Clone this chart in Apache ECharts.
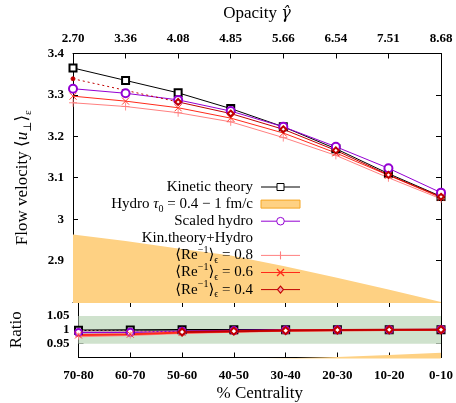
<!DOCTYPE html>
<html><head><meta charset="utf-8">
<script src="https://cdn.jsdelivr.net/npm/echarts@6/dist/echarts.min.js"></script>
<style>html,body{margin:0;padding:0;background:#fff}#c{width:456px;height:403px}</style>
</head><body><div id="c"></div>
<script>
const centrality = ['70-80','60-70','50-60','40-50','30-40','20-30','10-20','0-10'];
const opacity = ['2.70','3.36','4.08','4.85','5.66','6.54','7.51','8.68'];
// main panel values
const kinetic = [3.365, 3.335, 3.305, 3.267, 3.223, 3.170, 3.110, 3.055];
const scaledHydro = [3.315, 3.304, 3.288, 3.261, 3.223, 3.175, 3.123, 3.064];
const re08 = [3.281, 3.272, 3.257, 3.235, 3.197, 3.154, 3.100, 3.049];
const re06 = [3.297, 3.285, 3.269, 3.244, 3.208, 3.160, 3.106, 3.052];
const re04 = [3.339, 3.311, 3.283, 3.255, 3.217, 3.166, 3.107, 3.054];
const hydroLow = [2.70, 2.68, 2.66, 2.64, 2.61, 2.58, 2.55, 2.52];
const hydroHigh = [2.963, 2.947, 2.929, 2.912, 2.887, 2.859, 2.830, 2.800];
// ratio panel values
const rKinetic = [0.998, 0.999, 1.000, 1.000, 1.000, 1.000, 1.000, 1.000];
const rScaled = [0.990, 0.991, 0.995, 0.997, 0.999, 1.000, 1.000, 1.001];
const rRe08 = [0.977, 0.981, 0.988, 0.993, 0.996, 0.998, 0.999, 0.999];
const rRe06 = [0.981, 0.984, 0.990, 0.994, 0.997, 0.998, 0.999, 1.000];
const rRe04 = [0.997, 0.995, 0.992, 0.995, 0.997, 0.999, 1.000, 1.000];
const rHydroLow = [0.80, 0.80, 0.80, 0.80, 0.83, 0.84, 0.85, 0.86];
const rHydroHigh = [0.880, 0.884, 0.886, 0.891, 0.897, 0.902, 0.909, 0.917];
const mainTicks = {min: 2.8, max: 3.4, interval: 0.1};
const ratioTicks = {min: 0.9, max: 1.1, interval: 0.05};

const C = {kin:'#000000', sc:'#9400d3', r8:'#ff8080', r6:'#ff2a1a', r4:'#c00000', orange:'#fed183', orangeB:'#f5a623', green:'#cfe2cd'};
const FF = 'Liberation Serif, DejaVu Serif, serif';
const PLUS = 'path://M5,0V10M0,5H10';
const CROSS = 'path://M0,0L10,10M10,0L0,10';

const tickLab = {fontFamily: FF, fontWeight: 'bold', fontSize: 13, color: '#000'};
function xAx(grid, pos, data, showLab, margin) {
  return {type:'category', gridIndex: grid, position: pos, data: data, boundaryGap: false,
    axisLine:{show:true, lineStyle:{color:'#000', width:1}},
    axisTick:{show:true, inside:true, length:5, lineStyle:{color:'#000'}},
    axisLabel:{show:showLab, interval:0, margin: margin||8, ...tickLab},
    splitLine:{show:false}};
}
function yAx(grid, pos, t, showLab) {
  return {type:'value', gridIndex: grid, position: pos, min:t.min, max:t.max, interval:t.interval,
    axisLine:{show:true, lineStyle:{color:'#000', width:1}},
    axisTick:{show:true, inside:true, length:5, lineStyle:{color:'#000'}},
    axisLabel:{show:showLab, margin:9, showMinLabel:false, ...tickLab},
    splitLine:{show:false}};
}
const nameStyle = {fontFamily: FF, fontSize: 17, color:'#000',
  rich:{i:{fontFamily:FF, fontSize:17, fontStyle:'italic', lineHeight:22},
        g:{fontFamily:'DejaVu Serif', fontSize:16, fontStyle:'italic', lineHeight:22},
        sub:{fontFamily:FF, fontSize:11, verticalAlign:'bottom', lineHeight:22},
        n:{fontFamily:FF, fontSize:17, lineHeight:22}}};

const xAxes = [
  xAx(0,'bottom',centrality,false),
  Object.assign(xAx(0,'top',opacity,true,8), {name:'{n|Opacity }{g|γ̂}', nameLocation:'middle', nameGap:29, nameTextStyle:nameStyle}),
  Object.assign(xAx(1,'bottom',centrality,true,12), {name:'{n|% Centrality}', nameLocation:'middle', nameGap:25, nameTextStyle:nameStyle}),
  xAx(1,'top',centrality,false)
];
const yMain = yAx(0,'left',mainTicks,true);
Object.assign(yMain,{name:'{n|Flow velocity ⟨}{i|u}{sub|⊥}{n|⟩}{sub|ε}', nameLocation:'middle', nameGap:39, nameTextStyle:nameStyle});
const yRatio = yAx(1,'left',ratioTicks,true);
yRatio.axisLabel.showMaxLabel = false;
Object.assign(yRatio,{name:'{n|Ratio}', nameLocation:'middle', nameGap:51, nameTextStyle:nameStyle});
const yAxes = [yMain, yAx(0,'right',mainTicks,false), yRatio, yAx(1,'right',ratioTicks,false)];

function line(name, data, color, symbol, size, xi, yi, width, extra) {
  return Object.assign({type:'line', name, data, xAxisIndex:xi, yAxisIndex:yi,
    symbol, symbolSize:size, showSymbol:true, animation:false, silent:true,
    lineStyle:{color, width}, itemStyle:{color, borderColor:color, borderWidth:0.9}}, extra||{});
}
function band(prefix, low, high, xi, yi) {
  return [
    {type:'line', name:prefix+'low', data:low, stack:prefix, xAxisIndex:xi, yAxisIndex:yi, symbol:'none', lineStyle:{opacity:0}, animation:false, silent:true},
    {type:'line', name:prefix+'band', data:high.map((v,i)=>v-low[i]), stack:prefix, xAxisIndex:xi, yAxisIndex:yi, symbol:'none', lineStyle:{opacity:0}, areaStyle:{color:C.orange, opacity:1}, animation:false, silent:true}
  ];
}
const dottedPart = arr => arr.map((v,i)=> i<=2 ? v : null);
const solidPart = arr => arr.map((v,i)=> i>=2 ? v : null);

const series = [
  ...band('h', hydroLow, hydroHigh, 0, 0),
  line('Kinetic theory', kinetic, C.kin, 'emptyRect', 7, 0, 0, 1),
  line('Scaled hydro', scaledHydro, C.sc, 'emptyCircle', 8, 0, 0, 1),
  line('Re 0.8', re08, C.r8, PLUS, 8, 0, 0, 1),
  line('Re 0.6', re06, C.r6, CROSS, 7, 0, 0, 1),
  line('Re 0.4 dotted', dottedPart(re04), C.r4, 'circle', 4, 0, 0, 1, {lineStyle:{color:C.r4, width:1, type:[2,3]}, symbolSize:(v,p)=> p.dataIndex===0?4:0}),
  line('Re 0.4', solidPart(re04), C.r4, 'emptyDiamond', 6, 0, 0, 1),
  ...band('rh', rHydroLow, rHydroHigh, 2, 2),
  line('rKinetic', rKinetic, C.kin, 'emptyRect', 7, 2, 2, 1.5, {markArea:{silent:true, itemStyle:{color:C.green, opacity:1}, data:[[{yAxis:0.95},{yAxis:1.05}]]}}),
  line('rScaled', rScaled, C.sc, 'emptyCircle', 7, 2, 2, 1.5),
  line('rRe04 dotted', dottedPart(rRe04), '#e08080', 'none', 0, 2, 2, 1, {lineStyle:{color:'#e08080', width:1, type:[2,2]}}),
  line('rRe08', rRe08, C.r8, PLUS, 7, 2, 2, 2),
  line('rRe06', rRe06, C.r6, CROSS, 7, 2, 2, 2),
  line('rRe04', solidPart(rRe04), C.r4, 'emptyDiamond', 7, 2, 2, 2)
];

// legend built as graphic elements
const legRich = {
  i:{fontFamily:FF, fontSize:15, fontStyle:'italic', lineHeight:20},
  sub:{fontFamily:FF, fontSize:10, verticalAlign:'bottom', lineHeight:20},
  sup:{fontFamily:FF, fontSize:10, verticalAlign:'top', lineHeight:20},
  n:{fontFamily:FF, fontSize:15, lineHeight:20}
};
const legItems = [
  {text:'{n|Kinetic theory}', color:C.kin, mark:'square'},
  {text:'{n|Hydro }{i|τ}{sub|0}{n| = 0.4 − 1 fm/c}', mark:'rect'},
  {text:'{n|Scaled hydro}', color:C.sc, mark:'circle'},
  {text:'{n|Kin.theory+Hydro}', mark:null},
  {text:'{n|⟨Re}{sup|−1}{n|⟩}{sub|ϵ}{n| = 0.8}', color:C.r8, mark:'plus'},
  {text:'{n|⟨Re}{sup|−1}{n|⟩}{sub|ϵ}{n| = 0.6}', color:C.r6, mark:'cross'},
  {text:'{n|⟨Re}{sup|−1}{n|⟩}{sub|ϵ}{n| = 0.4}', color:C.r4, mark:'diamond'}
];
const graphic = [];
const TX = 253, L0 = 261, L1 = 300, MX = 280.5;
legItems.forEach((it, k) => {
  const y = 187 + 17.1*k;
  graphic.push({type:'text', x:TX, y:y, z:100, style:{text:it.text, rich:legRich, fill:'#000', align:'right', verticalAlign:'middle', fontFamily:FF, fontSize:15}});
  if (!it.mark) return;
  if (it.mark === 'rect') {
    graphic.push({type:'rect', z:100, shape:{x:L0, y:y-4, width:L1-L0, height:8}, style:{fill:C.orange, stroke:C.orangeB, lineWidth:1}});
    return;
  }
  const c = it.color;
  graphic.push({type:'line', z:100, shape:{x1:L0, y1:y, x2:L1, y2:y}, style:{stroke:c, lineWidth:1}});
  if (it.mark === 'square') graphic.push({type:'rect', z:101, shape:{x:MX-3.5, y:y-3.5, width:7, height:7}, style:{fill:'#fff', stroke:c, lineWidth:1}});
  if (it.mark === 'circle') graphic.push({type:'circle', z:101, shape:{cx:MX, cy:y, r:3.8}, style:{fill:'#fff', stroke:c, lineWidth:1}});
  if (it.mark === 'plus') { graphic.push({type:'line', z:101, shape:{x1:MX, y1:y-4, x2:MX, y2:y+4}, style:{stroke:c, lineWidth:1.1}}); }
  if (it.mark === 'cross') { graphic.push({type:'line', z:101, shape:{x1:MX-3.5, y1:y-3.5, x2:MX+3.5, y2:y+3.5}, style:{stroke:c, lineWidth:1.3}}); graphic.push({type:'line', z:101, shape:{x1:MX+3.5, y1:y-3.5, x2:MX-3.5, y2:y+3.5}, style:{stroke:c, lineWidth:1.3}}); }
  if (it.mark === 'diamond') graphic.push({type:'polygon', z:101, shape:{points:[[MX,y-3.5],[MX+3,y],[MX,y+3.5],[MX-3,y]]}, style:{fill:'#f0a0a0', stroke:c, lineWidth:1.1}});
});

const chart = echarts.init(document.getElementById('c'), null, {renderer:'canvas', width:456, height:403});
chart.setOption({
  backgroundColor:'#fff',
  animation:false,
  grid:[{left:73, top:52, width:368, height:250}, {left:73, top:302, width:368, height:58}],
  xAxis:xAxes, yAxis:yAxes, series, graphic
});
</script></body></html>
